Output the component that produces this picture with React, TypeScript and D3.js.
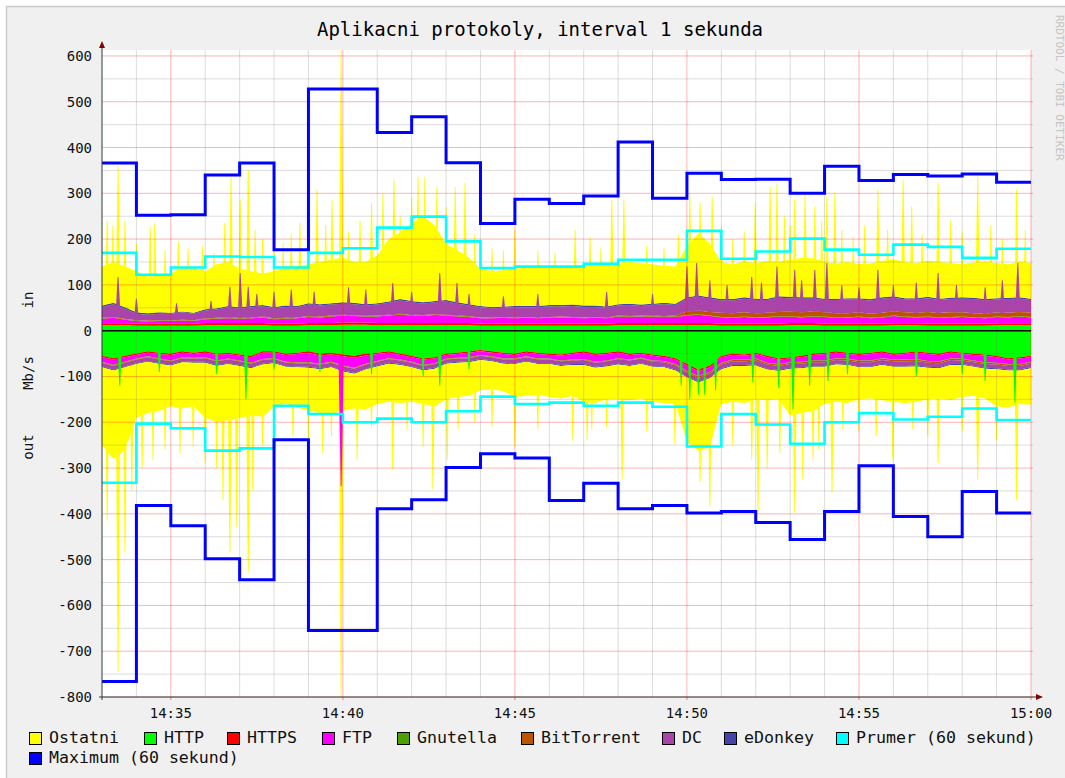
import React from 'react'
import * as d3 from 'd3'

const [W, H] = [1065, 778]
const plot = { left: 102, right: 1031, top: 50, bottom: 697 }
const FONT = '"DejaVu Sans Mono", monospace'

// one sample every 20 s from 14:33:00 to 15:00:00
const STEP = 20
const DURATION = 1620

// --- per-minute series (in = positive, out = drawn below zero) ---
const maxIn = [366, 252, 253, 340, 366, 177, 528, 528, 433, 467, 367, 234, 287, 278, 294, 412, 289, 344, 330, 331, 300, 359, 328, 341, 338, 342, 324]
const avgIn = [170, 122, 138, 162, 161, 138, 170, 180, 225, 249, 195, 137, 140, 140, 146, 155, 155, 218, 157, 173, 201, 177, 166, 188, 183, 159, 179]
const maxOut = [766, 382, 426, 498, 544, 238, 655, 655, 389, 369, 299, 269, 278, 371, 333, 389, 382, 398, 395, 419, 456, 395, 295, 406, 450, 351, 398]
const avgOut = [332, 203, 213, 262, 257, 164, 182, 200, 192, 200, 176, 144, 160, 157, 164, 157, 166, 253, 182, 205, 247, 200, 180, 194, 188, 170, 195]

const httpIn = [12, 11, 11, 12, 12, 11, 12, 13, 12, 12, 12, 11, 11, 11, 11, 12, 12, 12, 11, 11, 12, 11, 11, 12, 11, 11, 12]
const httpsIn = [4, 4, 4, 5, 5, 4, 5, 5, 5, 5, 5, 4, 4, 4, 4, 5, 5, 5, 4, 4, 5, 4, 4, 4, 4, 4, 4]
const gnutellaIn = [1, 1, 1, 1, 1, 1, 1, 1, 1, 1, 1, 1, 1, 1, 1, 1, 1, 1, 1, 1, 1, 1, 1, 1, 1, 1, 1]
const bittorrentIn = [1, 1, 1, 1, 1, 1, 1, 1, 1, 1, 1, 1, 1, 1, 1, 1, 2, 8, 9, 9, 10, 9, 9, 9, 10, 9, 9]
const edonkeyIn = [3, 3, 2, 3, 3, 3, 3, 3, 3, 3, 3, 3, 3, 3, 3, 3, 3, 3, 3, 3, 3, 3, 3, 3, 3, 3, 3]

const httpsOut = [3, 3, 3, 3, 3, 3, 4, 4, 3, 3, 3, 3, 3, 3, 3, 3, 3, 4, 3, 3, 3, 3, 3, 3, 3, 3, 3]
const gnutellaOut = [1, 1, 1, 1, 1, 1, 1, 1, 1, 1, 1, 1, 1, 1, 1, 1, 1, 1, 1, 1, 1, 1, 1, 1, 1, 1, 1]
const bittorrentOut = [1, 1, 1, 1, 1, 1, 1, 1, 1, 1, 1, 1, 1, 1, 1, 1, 2, 3, 3, 3, 3, 3, 3, 3, 3, 3, 3]
const dcOut = [8, 8, 7, 8, 8, 7, 8, 9, 8, 8, 7, 7, 8, 8, 9, 10, 9, 8, 8, 9, 8, 8, 9, 10, 9, 8, 8]
const edonkeyOut = [2, 2, 2, 2, 2, 2, 2, 2, 2, 2, 2, 2, 2, 2, 2, 2, 2, 2, 2, 2, 2, 2, 2, 2, 2, 2, 2]

// --- 20 s series ---
const ftpIn = [10, 12, 8, 6, 5, 6, 6, 7, 6, 8, 9, 10, 9, 10, 12, 10, 11, 12, 13, 12, 14, 15, 14, 13, 14, 16, 18, 16, 15, 17, 16, 14, 13, 12, 12, 13, 12, 13, 12, 13, 14, 13, 12, 13, 12, 14, 13, 14, 13, 14, 13, 16, 18, 15, 14, 13, 15, 13, 14, 16, 14, 12, 14, 15, 13, 13, 15, 12, 14, 16, 14, 13, 15, 13, 14, 15, 13, 12, 14, 13, 15, 13]
const dcIn = [24, 28, 22, 14, 13, 14, 14, 16, 14, 17, 18, 22, 20, 22, 22, 22, 24, 22, 25, 24, 24, 24, 24, 22, 24, 26, 29, 27, 25, 26, 29, 26, 23, 22, 20, 20, 22, 21, 22, 23, 22, 24, 23, 22, 21, 22, 24, 21, 23, 24, 23, 28, 30, 29, 27, 28, 30, 29, 28, 31, 29, 30, 28, 27, 29, 30, 28, 29, 31, 30, 28, 29, 30, 28, 29, 30, 31, 29, 28, 30, 29, 28]
const ostatniIn = [85, 89, 89, 90, 80, 80, 86, 98, 99, 83, 96, 96, 84, 76, 69, 78, 83, 86, 85, 92, 95, 98, 89, 92, 105, 136, 146, 170, 188, 165, 123, 113, 102, 81, 78, 79, 81, 84, 86, 82, 84, 83, 87, 90, 90, 90, 91, 91, 86, 81, 81, 112, 135, 118, 81, 76, 78, 78, 82, 76, 81, 86, 85, 80, 77, 79, 75, 78, 79, 81, 79, 77, 79, 80, 76, 72, 77, 82, 77, 73, 78, 78]

const httpOut = [55, 60, 55, 50, 45, 48, 50, 45, 48, 45, 50, 48, 52, 55, 45, 45, 50, 48, 45, 50, 48, 52, 55, 50, 48, 45, 50, 55, 60, 58, 50, 48, 45, 42, 45, 48, 50, 45, 48, 50, 52, 48, 45, 50, 48, 45, 50, 48, 52, 55, 60, 72, 85, 76, 55, 50, 52, 48, 55, 60, 58, 55, 50, 48, 45, 48, 50, 48, 45, 50, 48, 45, 48, 50, 45, 48, 50, 52, 55, 60, 58, 55]
const ftpOut = [10, 12, 10, 8, 8, 10, 12, 10, 8, 10, 12, 10, 10, 12, 14, 12, 15, 18, 20, 18, 16, 20, 22, 18, 15, 12, 10, 10, 12, 10, 8, 8, 10, 8, 8, 10, 8, 8, 10, 8, 10, 12, 14, 15, 14, 12, 10, 8, 10, 8, 10, 12, 10, 10, 12, 10, 8, 10, 12, 10, 8, 10, 12, 14, 12, 10, 12, 14, 12, 10, 12, 14, 15, 14, 12, 10, 12, 14, 12, 10, 12, 10]
const ostatniOut = [170, 193, 180, 117, 112, 102, 89, 101, 95, 120, 123, 122, 113, 103, 114, 94, 81, 88, 94, 96, 102, 86, 76, 87, 82, 83, 83, 75, 73, 82, 78, 75, 73, 66, 61, 60, 72, 74, 67, 72, 71, 67, 80, 77, 72, 76, 75, 75, 76, 78, 73, 140, 150, 150, 76, 78, 81, 74, 67, 62, 102, 98, 96, 81, 81, 83, 70, 68, 77, 76, 79, 77, 69, 66, 77, 70, 63, 65, 81, 81, 73, 80]

// --- one-second peaks [second, total] ---
const peaksIn = [[9, 240], [19, 230], [28, 360], [40, 240], [60, 190], [84, 227], [92, 235], [110, 175], [133, 195], [150, 180], [175, 185], [195, 170], [214, 236], [225, 336], [241, 286], [255, 351], [267, 220], [280, 200], [300, 185], [316, 192], [330, 210], [345, 236], [360, 200], [375, 308], [390, 230], [401, 286], [417, 613], [430, 215], [450, 240], [470, 280], [490, 300], [509, 330], [520, 250], [540, 290], [551, 336], [563, 336], [584, 314], [600, 270], [616, 314], [633, 323], [650, 210], [680, 180], [700, 175], [720, 220], [760, 175], [790, 170], [825, 220], [851, 205], [870, 180], [889, 286], [910, 286], [950, 185], [980, 180], [1005, 210], [1025, 301], [1043, 280], [1064, 293], [1080, 230], [1100, 200], [1120, 215], [1139, 279], [1165, 314], [1177, 323], [1190, 250], [1200, 230], [1208, 286], [1226, 301], [1243, 271], [1255, 240], [1264, 293], [1278, 301], [1290, 220], [1310, 205], [1330, 230], [1353, 308], [1370, 220], [1397, 330], [1412, 271], [1430, 210], [1458, 323], [1480, 240], [1500, 215], [1527, 336], [1550, 230], [1570, 200], [1595, 308], [1610, 220]]
const dcPeaksIn = [[28, 117], [60, 70], [130, 60], [190, 65], [223, 96], [241, 126], [255, 96], [270, 80], [300, 85], [330, 90], [370, 85], [430, 95], [460, 90], [507, 104], [540, 85], [589, 126], [619, 104], [640, 80], [700, 75], [760, 80], [880, 85], [960, 80], [1020, 140], [1037, 148], [1060, 110], [1090, 100], [1133, 117], [1150, 105], [1177, 140], [1208, 133], [1220, 110], [1243, 133], [1264, 148], [1290, 100], [1320, 95], [1353, 133], [1380, 100], [1420, 105], [1458, 126], [1490, 100], [1540, 95], [1570, 110], [1597, 148]]
const peaksOut = [[9, 413], [28, 746], [40, 485], [52, 350], [70, 300], [89, 282], [110, 260], [136, 267], [159, 253], [180, 290], [200, 300], [211, 369], [223, 485], [235, 428], [255, 528], [263, 350], [280, 250], [300, 260], [333, 231], [360, 240], [385, 267], [400, 230], [417, 800], [445, 282], [470, 210], [507, 303], [532, 216], [560, 253], [577, 347], [602, 282], [621, 216], [650, 200], [680, 210], [720, 253], [760, 215], [821, 240], [846, 240], [854, 216], [880, 210], [907, 325], [950, 220], [999, 247], [1043, 330], [1060, 384], [1100, 250], [1133, 282], [1144, 397], [1160, 300], [1182, 267], [1208, 397], [1222, 325], [1240, 282], [1250, 260], [1273, 354], [1292, 216], [1320, 220], [1350, 230], [1379, 282], [1414, 216], [1440, 230], [1458, 289], [1500, 220], [1527, 325], [1560, 240], [1595, 369]]
const httpPeaksOut = [[31, 120], [100, 90], [200, 95], [251, 150], [300, 85], [380, 90], [470, 95], [560, 100], [589, 120], [640, 85], [1010, 120], [1025, 150], [1040, 140], [1051, 140], [1070, 130], [1135, 113], [1180, 125], [1205, 172], [1234, 120], [1266, 110], [1300, 95], [1420, 100], [1500, 95], [1540, 110], [1592, 157]]
const ftpPeaksOut = [[417, 340]]

const xTickLabels = ['14:35', '14:40', '14:45', '14:50', '14:55', '15:00']
const xTickSeconds = [120, 420, 720, 1020, 1320, 1620]

const KEYS = ['http', 'https', 'ftp', 'gnutella', 'bittorrent', 'dc', 'edonkey', 'ostatni']
const COLORS = {
  ostatni: '#FFFF00', http: '#00FF00', https: '#FF0000', ftp: '#FF00FF', gnutella: '#4CA000',
  bittorrent: '#BB5500', dc: '#AA44AA', edonkey: '#4444AA', avg: '#00FFFF', max: '#0000FF',
}
const legend = [
  ['Ostatni', COLORS.ostatni], ['HTTP', COLORS.http], ['HTTPS', COLORS.https], ['FTP', COLORS.ftp],
  ['Gnutella', COLORS.gnutella], ['BitTorrent', COLORS.bittorrent], ['DC', COLORS.dc],
  ['eDonkey', COLORS.edonkey], ['Prumer (60 sekund)', COLORS.avg], ['Maximum (60 sekund)', COLORS.max],
]
const legendX = [29, 144, 227, 322, 397, 521, 662, 724, 836, 29]

const x = d3.scaleLinear().domain([0, DURATION]).range([plot.left, plot.right])
const y = d3.scaleLinear().domain([-800, 613]).range([plot.bottom, plot.top])

const times = d3.range(0, DURATION + 1, STEP)
const minuteOf = (t) => Math.min(26, Math.floor(t / 60))

const inRows = times.map((t, i) => {
  const m = minuteOf(t)
  return {
    t, http: httpIn[m], https: httpsIn[m], ftp: ftpIn[i], gnutella: gnutellaIn[m],
    bittorrent: bittorrentIn[m], dc: dcIn[i], edonkey: edonkeyIn[m], ostatni: ostatniIn[i],
  }
})
const outRows = times.map((t, i) => {
  const m = minuteOf(t)
  return {
    t, http: httpOut[i], https: httpsOut[m], ftp: ftpOut[i], gnutella: gnutellaOut[m],
    bittorrent: bittorrentOut[m], dc: dcOut[m], edonkey: edonkeyOut[m], ostatni: ostatniOut[i],
  }
})

const stack = d3.stack().keys(KEYS)
const inSeries = stack(inRows)
const outSeries = stack(outRows)

function layerArea(sign) {
  return d3.area()
    .x(d => x(d.data.t))
    .y0(d => y(sign * d[0]))
    .y1(d => y(sign * d[1]))
}

// narrow needle for a one-second peak
function peakPath(t, base, v, sign) {
  const pts = [[t - 4.5, base], [t - 0.8, v], [t + 0.8, v], [t + 4.5, base]]
  return d3.area()
    .x(p => x(p[0]))
    .y0(y(sign * base))
    .y1(p => y(sign * p[1]))(pts)
}

function baseOf(series, key, t) {
  const layer = series.find(s => s.key === key)
  return layer[Math.round(t / STEP)][0]
}

function stepLine(values, sign) {
  const pts = values.map((v, i) => [i * 60, v]).concat([[DURATION, values[values.length - 1]]])
  return d3.line().curve(d3.curveStepAfter).x(p => x(p[0])).y(p => y(sign * p[1]))(pts)
}

export default function App() {
  const hGrid = d3.range(-800, 601, 50)
  const vGrid = d3.range(60, DURATION + 1, 60)

  return (
    <svg width={W} height={H} style={{ position: 'absolute', left: 0, top: 0 }} fontFamily={FONT}>
      <rect x={0} y={0} width={W} height={H} fill="#fff" />
      <rect x={6} y={6} width={W - 6} height={H - 6} fill="#F0F0F0" />
      <line x1={6} y1={6.5} x2={W} y2={6.5} stroke="#CBCBCB" strokeWidth={1.5} />
      <line x1={6.5} y1={6} x2={6.5} y2={H} stroke="#CBCBCB" strokeWidth={1.5} />

      <rect x={plot.left} y={plot.top} width={plot.right - plot.left} height={plot.bottom - plot.top} fill="#fff" />

      {/* peaks of "Ostatni" sit behind the stacked layers */}
      {peaksIn.map(([t, v], i) => <path key={'pi' + i} d={peakPath(t, 0, v, 1)} fill={COLORS.ostatni} />)}
      {peaksOut.map(([t, v], i) => <path key={'po' + i} d={peakPath(t, 0, v, -1)} fill={COLORS.ostatni} />)}

      {inSeries.map(s => <path key={'in' + s.key} d={layerArea(1)(s)} fill={COLORS[s.key]} />)}
      {outSeries.map(s => <path key={'out' + s.key} d={layerArea(-1)(s)} fill={COLORS[s.key]} />)}

      {dcPeaksIn.map(([t, v], i) => (
        <path key={'dc' + i} d={peakPath(t, baseOf(inSeries, 'dc', t), v, 1)} fill={COLORS.dc} />
      ))}
      {httpPeaksOut.map(([t, v], i) => <path key={'ho' + i} d={peakPath(t, 0, v, -1)} fill={COLORS.http} />)}
      {ftpPeaksOut.map(([t, v], i) => (
        <path key={'fo' + i} d={peakPath(t, baseOf(outSeries, 'ftp', t), v, -1)} fill={COLORS.ftp} />
      ))}

      {/* grid on top of the areas */}
      {hGrid.map(v => (
        <line key={'h' + v} x1={plot.left} x2={plot.right + 2} y1={y(v)} y2={y(v)}
          stroke={v % 100 === 0 ? 'rgba(255,0,0,0.3)' : 'rgba(120,120,120,0.25)'} strokeWidth={1} />
      ))}
      {vGrid.map(t => (
        <line key={'v' + t} x1={x(t)} x2={x(t)} y1={plot.top} y2={plot.bottom}
          stroke={xTickSeconds.includes(t) ? 'rgba(255,0,0,0.3)' : 'rgba(120,120,120,0.25)'} strokeWidth={1} />
      ))}

      <line x1={plot.left} x2={plot.right} y1={y(0)} y2={y(0)} stroke="#000" strokeWidth={1.5} />

      <path d={stepLine(avgIn, 1)} fill="none" stroke={COLORS.avg} strokeWidth={2.6} />
      <path d={stepLine(avgOut, -1)} fill="none" stroke={COLORS.avg} strokeWidth={2.6} />
      <path d={stepLine(maxIn, 1)} fill="none" stroke={COLORS.max} strokeWidth={3} />
      <path d={stepLine(maxOut, -1)} fill="none" stroke={COLORS.max} strokeWidth={3} />

      {/* axes */}
      <line x1={plot.left} x2={plot.left} y1={plot.bottom + 3} y2={47} stroke="#2C3C38" strokeWidth={1} />
      <line x1={plot.left - 3} x2={plot.right + 6} y1={plot.bottom} y2={plot.bottom} stroke="#2C3C38" strokeWidth={1} />
      <path d={`M${plot.left - 3},48 L${plot.left + 3},48 L${plot.left},41 Z`} fill="#7F0000" />
      <path d={`M${plot.right + 5},${plot.bottom - 3} L${plot.right + 5},${plot.bottom + 3} L${plot.right + 12},${plot.bottom} Z`} fill="#7F0000" />
      {xTickSeconds.map(t => (
        <line key={'xt' + t} x1={x(t)} x2={x(t)} y1={plot.bottom} y2={plot.bottom + 3} stroke="rgba(255,0,0,0.5)" />
      ))}

      {d3.range(-800, 601, 100).map(v => (
        <text key={'yl' + v} x={92} y={y(v) + 5} textAnchor="end" fontSize={14} fill="#111">{v}</text>
      ))}
      {xTickLabels.map((lab, i) => (
        <text key={'xl' + lab} x={x(xTickSeconds[i])} y={718} textAnchor="middle" fontSize={14} fill="#111">{lab}</text>
      ))}

      <text x={28} y={300} transform="rotate(-90 28 300)" textAnchor="middle" dominantBaseline="central" fontSize={14} fill="#111">in</text>
      <text x={28} y={373} transform="rotate(-90 28 373)" textAnchor="middle" dominantBaseline="central" fontSize={14} fill="#111">Mb/s</text>
      <text x={28} y={447} transform="rotate(-90 28 447)" textAnchor="middle" dominantBaseline="central" fontSize={14} fill="#111">out</text>

      <text x={540} y={36} textAnchor="middle" fontSize={19} fill="#000">Aplikacni protokoly, interval 1 sekunda</text>
      <text x={1056} y={15} transform="rotate(90 1056 15)" fontSize={11} fill="#C4C4C4">RRDTOOL / TOBI OETIKER</text>

      {legend.map(([label, color], i) => {
        const lx = legendX[i]
        const ly = i < 9 ? 732 : 752
        return (
          <g key={label}>
            <rect x={lx + 0.5} y={ly + 0.5} width={12} height={12} fill={color} stroke="#000" strokeWidth={1} />
            <text x={lx + 20} y={ly + 11} fontSize={16.6} fill="#111">{label}</text>
          </g>
        )
      })}
    </svg>
  )
}
